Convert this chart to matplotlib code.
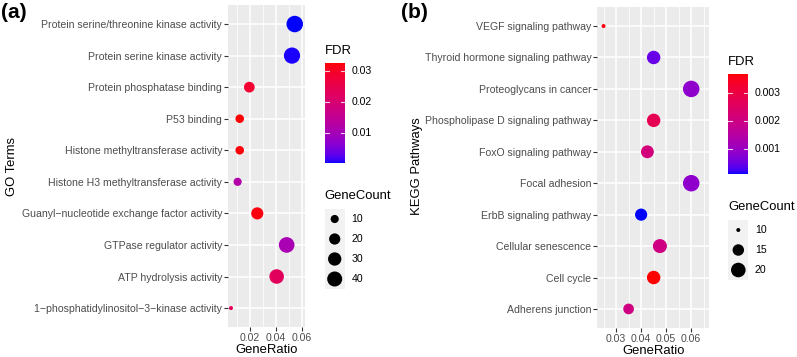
import numpy as np
import matplotlib
matplotlib.use("Agg")
import matplotlib.pyplot as plt
from matplotlib.colors import ListedColormap, Normalize
from matplotlib.patches import Rectangle

plt.rcParams['font.family'] = ['Liberation Sans', 'DejaVu Sans']

# ---------------- data ----------------
go_terms = ["Protein serine/threonine kinase activity",
            "Protein serine kinase activity",
            "Protein phosphatase binding",
            "P53 binding",
            "Histone methyltransferase activity",
            "Histone H3 methyltransferase activity",
            "Guanyl\u2212nucleotide exchange factor activity",
            "GTPase regulator activity",
            "ATP hydrolysis activity",
            "1\u2212phosphatidylinositol\u22123\u2212kinase activity"]
go_ratio = [0.0544, 0.0523, 0.0195, 0.0121, 0.0121, 0.0105, 0.0256, 0.0482, 0.0405, 0.0054]
go_count = [50, 48, 18, 11, 11, 10, 24, 44, 37, 5]
go_fdr = [0.0001, 0.0004, 0.0285, 0.0326, 0.0320, 0.0120, 0.0318, 0.0105, 0.0225, 0.0230]
go_fdr_breaks = [0.01, 0.02, 0.03]
go_fdr_labels = ["0.01", "0.02", "0.03"]
go_size_breaks = [10, 20, 30, 40]
go_x_breaks = [0.02, 0.04, 0.06]
go_x_labels = ["0.02", "0.04", "0.06"]

kegg_terms = ["VEGF signaling pathway",
              "Thyroid hormone signaling pathway",
              "Proteoglycans in cancer",
              "Phospholipase D signaling pathway",
              "FoxO signaling pathway",
              "Focal adhesion",
              "ErbB signaling pathway",
              "Cellular senescence",
              "Cell cycle",
              "Adherens junction"]
kegg_ratio = [0.025, 0.045, 0.060, 0.045, 0.0425, 0.060, 0.040, 0.0475, 0.045, 0.035]
kegg_count = [10, 18, 24, 18, 17, 24, 16, 19, 18, 14]
kegg_fdr = [0.00355, 0.00045, 0.00085, 0.0027, 0.0021, 0.00085, 0.0001, 0.0020, 0.00366, 0.0020]
kegg_fdr_breaks = [0.001, 0.002, 0.003]
kegg_fdr_labels = ["0.001", "0.002", "0.003"]
kegg_size_breaks = [10, 15, 20]
kegg_x_breaks = [0.03, 0.04, 0.05, 0.06]
kegg_x_labels = ["0.03", "0.04", "0.05", "0.06"]

# ---------------- colour map (Lab interpolation blue->red like ggplot) ----------------
def srgb_to_lab(rgb):
    rgb = np.asarray(rgb, float)
    lin = np.where(rgb <= 0.04045, rgb / 12.92, ((rgb + 0.055) / 1.055) ** 2.4)
    M = np.array([[0.4124564, 0.3575761, 0.1804375],
                  [0.2126729, 0.7151522, 0.0721750],
                  [0.0193339, 0.1191920, 0.9503041]])
    xyz = M @ lin
    wp = np.array([0.95047, 1.0, 1.08883])
    t = xyz / wp
    f = np.where(t > (6/29)**3, np.cbrt(t), t / (3*(6/29)**2) + 4/29)
    return np.array([116*f[1]-16, 500*(f[0]-f[1]), 200*(f[1]-f[2])])

def lab_to_srgb(lab):
    L, a, b = lab
    fy = (L + 16) / 116
    fx = fy + a / 500
    fz = fy - b / 200
    def finv(f):
        return np.where(f > 6/29, f**3, 3*(6/29)**2*(f - 4/29))
    wp = np.array([0.95047, 1.0, 1.08883])
    xyz = np.array([finv(fx), finv(fy), finv(fz)]) * wp
    Minv = np.array([[3.2404542, -1.5371385, -0.4985314],
                     [-0.9692660, 1.8760108, 0.0415560],
                     [0.0556434, -0.2040259, 1.0572252]])
    lin = Minv @ xyz
    lin = np.clip(lin, 0, 1)
    srgb = np.where(lin <= 0.0031308, 12.92*lin, 1.055*lin**(1/2.4) - 0.055)
    return np.clip(srgb, 0, 1)

lab_lo = srgb_to_lab([0, 0, 1])
lab_hi = srgb_to_lab([1, 0, 0])
cols = [lab_to_srgb(lab_lo + (lab_hi - lab_lo) * t) for t in np.linspace(0, 1, 256)]
cmap = ListedColormap(cols)

# ---------------- figure ----------------
W, H = 797, 357
fig = plt.figure(figsize=(W/100, H/100), dpi=100)
fig.patch.set_facecolor('white')

def px_axes(x0, x1, y0, y1):
    return fig.add_axes([x0/W, 1 - y1/H, (x1-x0)/W, (y1-y0)/H])

def size_px(v, vmin, vmax):
    return 4.0 + 12.5*np.sqrt(np.clip((np.asarray(v, float)-vmin)/(vmax-vmin), 0, 1))

def s_pts(d):
    return (np.asarray(d)*0.72)**2

TICK_C = '#4D4D4D'
LAB_FS = 7.6
TITLE_FS = 9.4

def panel(ax_box, terms, ratio, count, fdr, xlim, xbreaks, xlabels, minor, fdr_lim):
    ax = px_axes(*ax_box)
    n = len(terms)
    ypos = np.arange(n)
    ax.set_facecolor('#EBEBEB')
    for s in ax.spines.values():
        s.set_visible(False)
    ax.set_xlim(*xlim)
    ax.set_ylim(n - 1 + 0.6, -0.6)
    for m in minor:
        ax.axvline(m, color='white', lw=0.55, zorder=0.5)
    for b in xbreaks:
        ax.axvline(b, color='white', lw=1.1, zorder=0.6)
    for y in ypos:
        ax.axhline(y, color='white', lw=1.1, zorder=0.6)
    vmin, vmax = min(count), max(count)
    norm = Normalize(*fdr_lim)
    ax.scatter(ratio, ypos, s=s_pts(size_px(count, vmin, vmax)),
               c=cmap(norm(np.array(fdr))), linewidths=0, zorder=3)
    ax.set_yticks(ypos)
    ax.set_yticklabels(terms)
    ax.set_xticks(xbreaks)
    ax.set_xticklabels(xlabels)
    ax.tick_params(axis='both', length=2.6, width=0.8, color='#333333',
                   labelcolor=TICK_C, labelsize=LAB_FS, pad=1.6)
    return ax, vmin, vmax

# panel a
axa, a_vmin, a_vmax = panel((228, 305, 5.1, 327), go_terms, go_ratio, go_count, go_fdr,
                            (0.0031, 0.0623), go_x_breaks, go_x_labels, [0.01, 0.03, 0.05],
                            (0.0001, 0.0326))
# panel b
axb, b_vmin, b_vmax = panel((597.3, 709, 7.2, 327.8), kegg_terms, kegg_ratio, kegg_count, kegg_fdr,
                            (0.0225, 0.0671), kegg_x_breaks, kegg_x_labels,
                            [0.025, 0.035, 0.045, 0.055, 0.065], (0.0001, 0.00366))

# overlay for texts & legends
ov = fig.add_axes([0, 0, 1, 1])
ov.set_xlim(0, W)
ov.set_ylim(H, 0)
ov.axis('off')
ov.patch.set_alpha(0)

ov.text(1, 12, "(a)", fontsize=15, fontweight='bold', ha='left', va='center')
ov.text(401, 12, "(b)", fontsize=15, fontweight='bold', ha='left', va='center')
ov.text(266.5, 350, "GeneRatio", fontsize=TITLE_FS, ha='center', va='center')
ov.text(653.3, 351, "GeneRatio", fontsize=TITLE_FS, ha='center', va='center')
ov.text(12.5, 166, "GO Terms", fontsize=TITLE_FS, ha='center', va='center', rotation=90)
ov.text(417, 166.5, "KEGG Pathways", fontsize=TITLE_FS, ha='center', va='center', rotation=90)

def colorbar(x0, x1, y0, y1, lim, breaks, labels, title_y):
    cax = px_axes(x0, x1, y0, y1)
    grad = np.linspace(lim[0], lim[1], 256).reshape(-1, 1)
    cax.imshow(grad, cmap=cmap, aspect='auto', origin='lower',
               extent=[0, 1, lim[0], lim[1]], vmin=lim[0], vmax=lim[1])
    cax.set_xlim(0, 1)
    cax.set_ylim(*lim)
    cax.axis('off')
    for b in breaks:
        cax.plot([0, 0.2], [b, b], color='white', lw=0.8, alpha=0.8)
        cax.plot([0.8, 1], [b, b], color='white', lw=0.8, alpha=0.8)
    for b, l in zip(breaks, labels):
        ypx = y1 - (b - lim[0]) / (lim[1] - lim[0]) * (y1 - y0)
        ov.text(x1 + 6.5, ypx, l, fontsize=LAB_FS, ha='left', va='center', color='black')
    ov.text(x0, title_y, "FDR", fontsize=TITLE_FS, ha='left', va='center')

colorbar(324.7, 344.7, 62.7, 163.3, (0.0001, 0.0326), go_fdr_breaks, go_fdr_labels, 50.5)
colorbar(728.3, 748.3, 74, 174.3, (0.0001, 0.00366), kegg_fdr_breaks, kegg_fdr_labels, 62)

def size_legend(x0, x1, ytop, breaks, vmin, vmax, title_y, label_x):
    kh = 20
    for i, b in enumerate(breaks):
        ov.add_patch(Rectangle((x0, ytop + i*kh), x1 - x0, kh, facecolor='#F2F2F2',
                               edgecolor='none', zorder=1))
    cy = [ytop + kh*(i + 0.5) for i in range(len(breaks))]
    ov.scatter([(x0 + x1)/2]*len(breaks), cy, s=s_pts(size_px(breaks, vmin, vmax)),
               color='black', linewidths=0, zorder=2)
    for b, y in zip(breaks, cy):
        ov.text(label_x, y, str(b), fontsize=LAB_FS, ha='left', va='center')
    ov.text(x0, title_y, "GeneCount", fontsize=TITLE_FS, ha='left', va='center')

size_legend(324.7, 344.7, 209, go_size_breaks, a_vmin, a_vmax, 196, 351.5)
size_legend(728.3, 748.3, 220, kegg_size_breaks, b_vmin, b_vmax, 207.5, 755)

fig.savefig("out.png", dpi=100, facecolor='white')
